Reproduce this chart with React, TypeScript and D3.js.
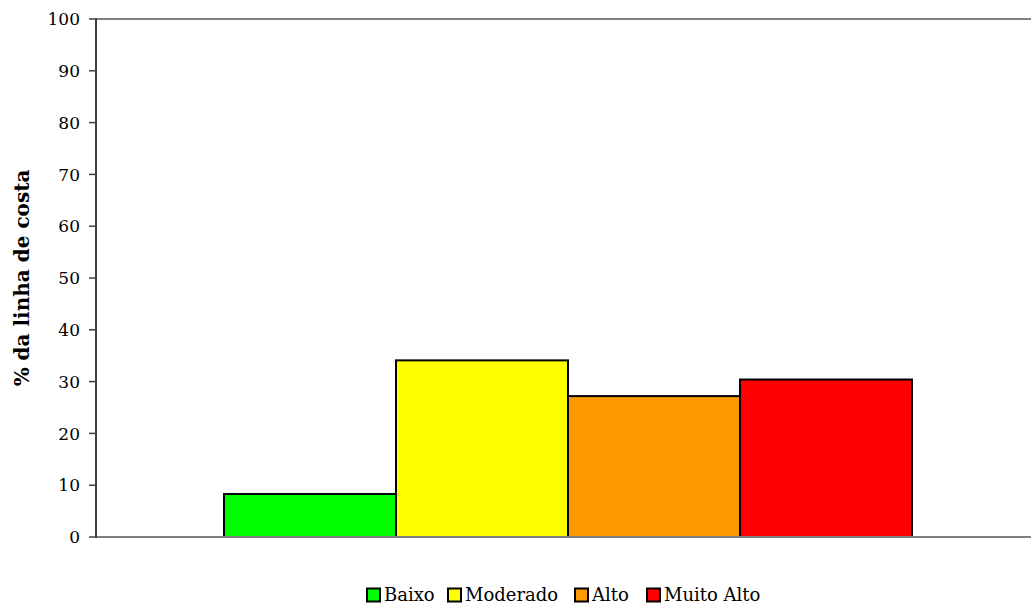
import React from "react";
import * as d3 from "d3";

const categories = ["Baixo", "Moderado", "Alto", "Muito Alto"];
const values = [8.3, 34.1, 27.2, 30.4];
const colors = ["#00ff00", "#ffff00", "#ff9900", "#ff0000"];
const yTicks = [0, 10, 20, 30, 40, 50, 60, 70, 80, 90, 100];

const W = 1031;
const H = 608;
const plotLeft = 96;
const plotRight = 1031;
const plotTop = 19;
const plotBottom = 537;
const font = "DejaVu Serif";

export default function App() {
  const y = d3.scaleLinear().domain([0, 100]).range([plotBottom, plotTop]);
  const x = d3.scaleBand<string>().domain(categories).range([224, 912]).padding(0);

  const legendX = [367, 448, 575, 647];
  const legendY = 595;

  return (
    <svg width={W} height={H} style={{ position: "absolute", left: 0, top: 0 }}>
      <rect x={0} y={0} width={W} height={H} fill="#ffffff" />
      <line x1={plotLeft} x2={plotRight} y1={plotTop} y2={plotTop} stroke="#808080" strokeWidth={2} />
      {categories.map((c, i) => (
        <rect
          key={c}
          x={x(c)!}
          y={y(values[i])}
          width={x.bandwidth()}
          height={plotBottom - y(values[i])}
          fill={colors[i]}
          stroke="#000"
          strokeWidth={2}
        />
      ))}
      <line x1={plotLeft} x2={plotRight} y1={plotBottom} y2={plotBottom} stroke="#808080" strokeWidth={2} />
      <line x1={plotLeft} x2={plotLeft} y1={plotTop - 1} y2={plotBottom + 1} stroke="#404040" strokeWidth={2} />
      {yTicks.map((t) => (
        <g key={t}>
          <line x1={plotLeft - 7} x2={plotLeft} y1={y(t)} y2={y(t)} stroke="#404040" strokeWidth={1.5} />
          <text
            x={80}
            y={y(t)}
            dy="0.36em"
            textAnchor="end"
            fontFamily={font}
            fontSize={17}
            fill="#000"
          >
            {t}
          </text>
        </g>
      ))}
      <text
        transform={`translate(29, ${(plotTop + plotBottom) / 2}) rotate(-90)`}
        textAnchor="middle"
        fontFamily={font}
        fontWeight="bold"
        fontSize={20}
        fill="#000"
      >
        % da linha de costa
      </text>
      {categories.map((c, i) => (
        <g key={c}>
          <rect
            x={legendX[i]}
            y={legendY - 6.5}
            width={13}
            height={13}
            fill={colors[i]}
            stroke="#000"
            strokeWidth={2}
          />
          <text x={legendX[i] + 17} y={legendY} dy="0.36em" fontFamily={font} fontSize={18} fill="#000">
            {c}
          </text>
        </g>
      ))}
    </svg>
  );
}
